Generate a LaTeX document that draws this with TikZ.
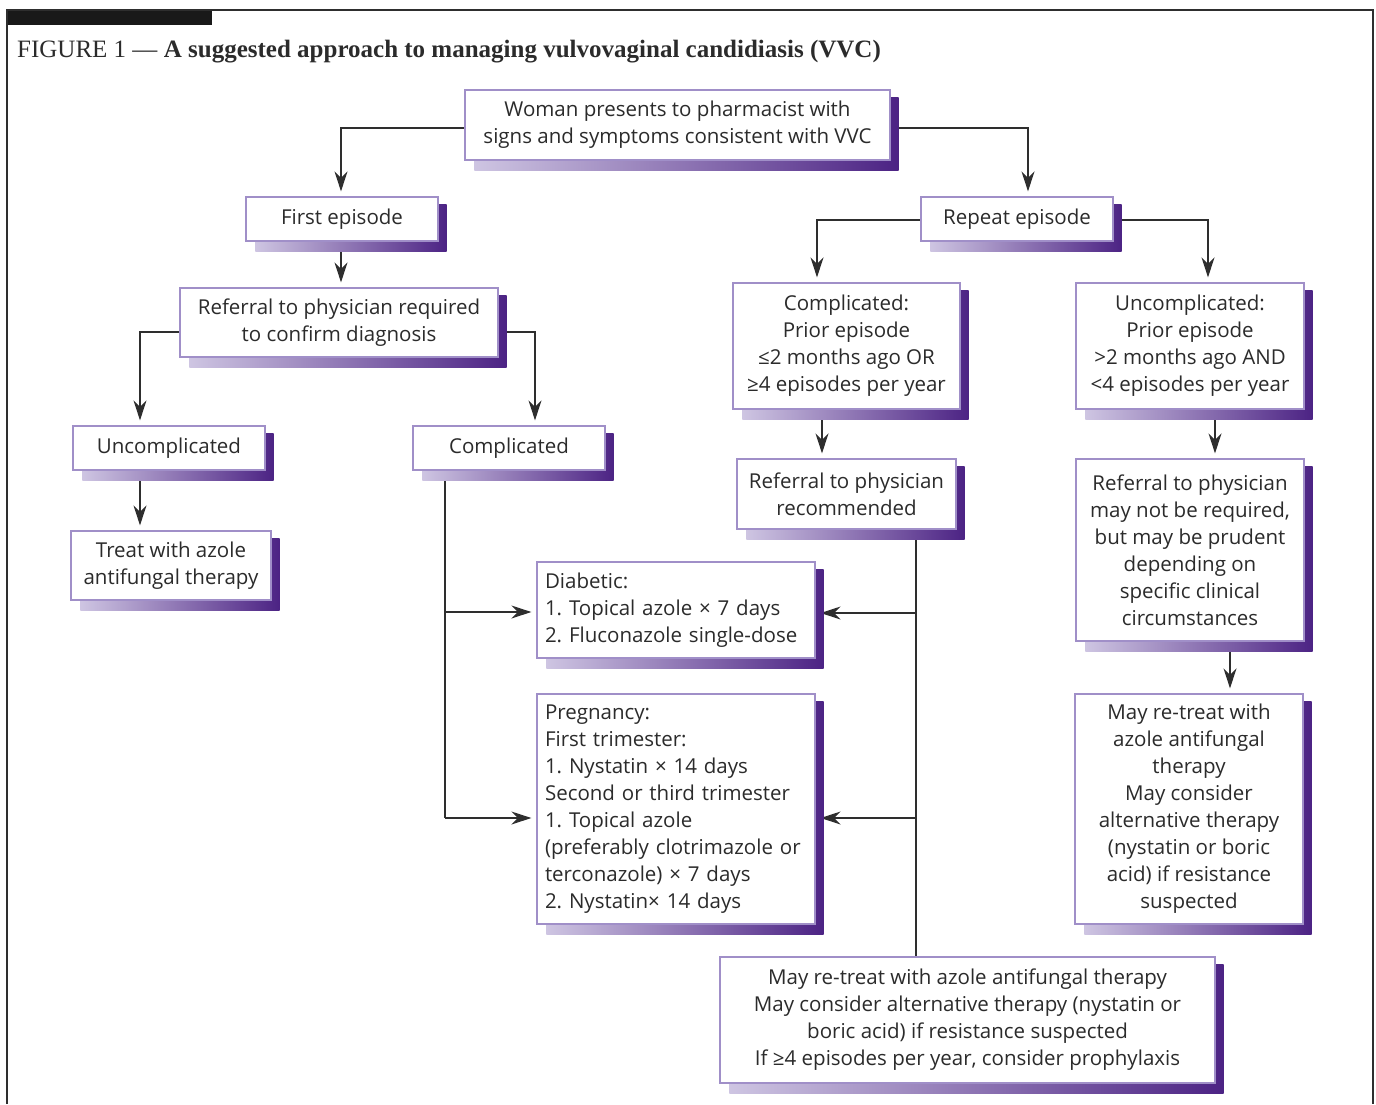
\documentclass[tikz,border=0pt]{standalone}
\usepackage{fontspec}
\setmainfont{Liberation Serif}
\newfontfamily\boxfont{Open Sans}
\usetikzlibrary{arrows.meta,calc,backgrounds}
\definecolor{boxc}{HTML}{A08FC8}
\definecolor{shL}{HTML}{CEC5E2}
\definecolor{shR}{HTML}{4C2384}
\definecolor{txt}{HTML}{2B2B2B}
\definecolor{framec}{HTML}{2E2E2E}
\tikzset{
  box/.style={draw=boxc, line width=1.2pt, fill=white, inner sep=0pt, align=center,
    text=txt, font=\boxfont\fontsize{20.5}{27}\selectfont\frenchspacing},
  lbox/.style={box, align=left, inner xsep=8pt, text width=#1},
  conn/.style={line width=1.3pt, draw=framec},
  arr/.style={conn, -{Stealth[length=20pt,width=13pt]}, shorten >=5pt},
  shadowbox/.style={left color=shL, right color=shR},
}
\begin{document}
\begin{tikzpicture}[x=1pt,y=1pt]
\useasboundingbox (0,0) rectangle (1376,-1104);
% frame
\fill[black!90] (7,-10) rectangle (212,-25);
\draw[line width=1.5pt, framec] (7,-1104) -- (7,-10) -- (1373,-10) -- (1373,-1104);
% title
\node[anchor=base west, inner sep=0pt, font=\fontsize{25}{29}\selectfont, text=txt] (title) at (17,-57)
  {FIGURE 1 — \textbf{A suggested approach to managing vulvovaginal candidiasis (VVC)}};

% boxes
\node[box, minimum width=425, minimum height=70] (top) at (677.5,-125)
  {Woman presents to pharmacist with\\signs and symptoms consistent with VVC};
\node[box, minimum width=192, minimum height=44] (first) at (342,-219) {First episode};
\node[box, minimum width=318, minimum height=69] (ref1) at (339,-322.5)
  {Referral to physician required\\to confirm diagnosis};
\node[box, minimum width=192, minimum height=44] (unc1) at (169,-448) {Uncomplicated};
\node[box, minimum width=192, minimum height=44] (comp1) at (509,-448) {Complicated};
\node[box, minimum width=200, minimum height=69] (treat) at (171,-565.5)
  {Treat with azole\\antifungal therapy};
\node[box, minimum width=192, minimum height=44] (repeat) at (1017,-219) {Repeat episode};
\node[box, minimum width=227, minimum height=126] (comp2) at (846.5,-346)
  {Complicated:\\Prior episode\\≤2 months ago OR\\≥4 episodes per year};
\node[box, minimum width=228, minimum height=126] (unc2) at (1190,-346)
  {Uncomplicated:\\Prior episode\\>2 months ago AND\\<4 episodes per year};
\node[box, minimum width=219, minimum height=70] (refrec) at (846.5,-494)
  {Referral to physician\\recommended};
\node[box, minimum width=228, minimum height=182] (refmay) at (1190,-550)
  {Referral to physician\\may not be required,\\but may be prudent\\depending on\\specific clinical\\circumstances};
\node[box, minimum width=228, minimum height=230] (retreat) at (1189,-809)
  {May re-treat with\\azole antifungal\\therapy\\May consider\\alternative therapy\\(nystatin or boric\\acid) if resistance\\suspected};
\node[lbox=262, minimum height=96] (diab) at (676,-610)
  {Diabetic:\\1. Topical azole × 7 days\\2. Fluconazole single-dose};
\node[lbox=262, minimum height=230] (preg) at (676,-809)
  {Pregnancy:\\First trimester:\\1. Nystatin × 14 days\\Second or third trimester\\1. Topical azole\\(preferably clotrimazole or\\terconazole) × 7 days\\2. Nystatin× 14 days};
\node[box, minimum width=495, minimum height=126] (bottom) at (967.5,-1020)
  {May re-treat with azole antifungal therapy\\May consider alternative therapy (nystatin or\\boric acid) if resistance suspected\\If ≥4 episodes per year, consider prophylaxis};

\begin{scope}[on background layer]
  % connectors
  \draw[arr] ([yshift=-3pt]top.west) -| ([xshift=-1pt]first.north);
  \draw[arr] ([yshift=-3pt]top.east) -| ([xshift=11pt]repeat.north);
  \draw[arr] ([xshift=-1pt]first.south) -- ([xshift=-1pt]first.south |- ref1.north);
  \draw[arr] ([yshift=-9.5pt]ref1.west) -| ([xshift=-29pt]unc1.north);
  \draw[arr] ([yshift=-9.5pt]ref1.east) -| ([xshift=26pt]comp1.north);
  \draw[arr] ([xshift=-29pt]unc1.south) -- ([xshift=-29pt]unc1.south |- treat.north);
  \draw[arr] ([yshift=-1pt]repeat.west) -| ([xshift=-29.5pt]comp2.north);
  \draw[arr] ([yshift=-1pt]repeat.east) -| ([xshift=18pt]unc2.north);
  \draw[arr] ([xshift=-24.5pt]comp2.south) -- ([xshift=-24.5pt]comp2.south |- refrec.north);
  \draw[arr] ([xshift=25pt]unc2.south) -- ([xshift=25pt]unc2.south |- refmay.north);
  \draw[arr] ([xshift=40pt]refmay.south) -- ([xshift=40pt]refmay.south |- retreat.north);
  % left trunk
  \coordinate (tL) at ([xshift=-64pt]comp1.south);
  \coordinate (dL) at ([yshift=-2pt]diab.west);
  \coordinate (pL) at ([yshift=-9pt]preg.west);
  \draw[conn] (tL) -- (tL |- pL);
  \draw[arr] (tL |- dL) -- (dL);
  \draw[arr] (tL |- pL) -- (pL);
  % right trunk
  \coordinate (tR) at ([xshift=69.5pt]refrec.south);
  \coordinate (dR) at ([yshift=-3pt]diab.east);
  \coordinate (pR) at ([yshift=-9pt]preg.east);
  \draw[conn] (tR) -- (tR |- bottom.north);
  \draw[arr] (tR |- dR) -- (dR);
  \draw[arr] (tR |- pR) -- (pR);
  % shadows
  \foreach \n in {top,first,ref1,unc1,comp1,treat,repeat,comp2,unc2,refrec,refmay,retreat,diab,preg,bottom}
    \shade[shadowbox] ($(\n.south west)+(10,-10)$) rectangle ($(\n.north east)+(8,-8)$);
\end{scope}
\end{tikzpicture}
\end{document}
